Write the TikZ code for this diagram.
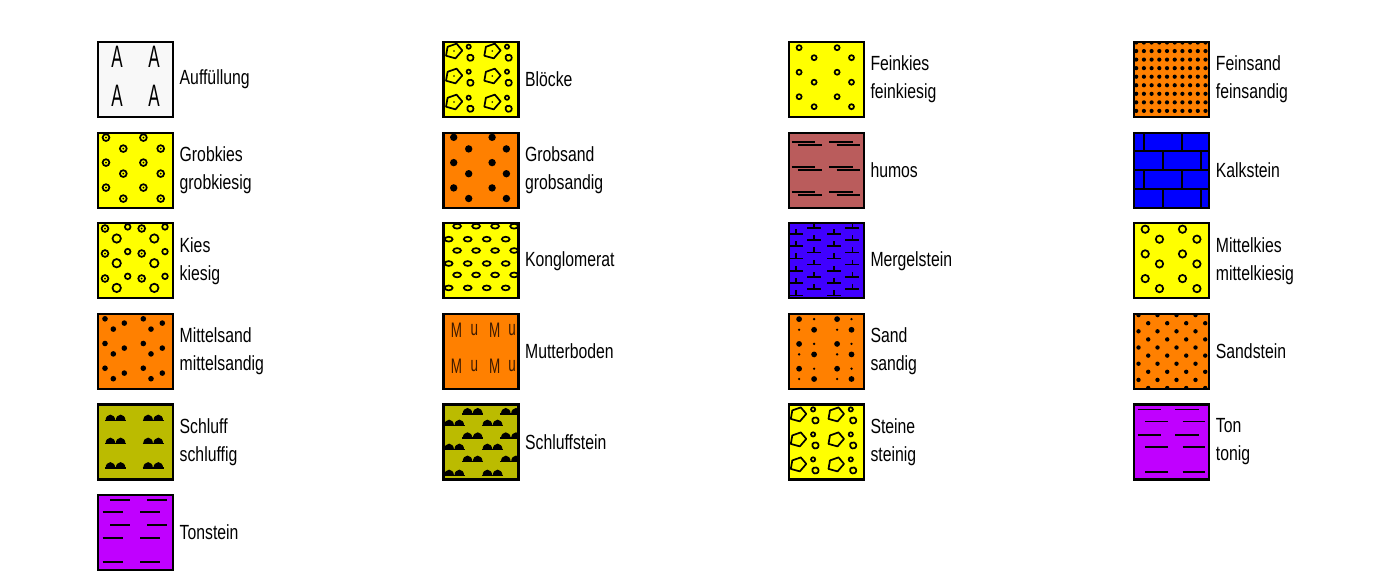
\documentclass[tikz,border=0pt]{standalone}
\usepackage{fontspec}
\setmainfont{Liberation Sans}[FakeStretch=0.77]
\newfontfamily\afont{Liberation Sans}[FakeStretch=0.55]
\newfontfamily\mfont{Liberation Sans}[FakeStretch=0.64]
\definecolor{cyel}{RGB}{255,255,0}
\definecolor{corg}{RGB}{255,128,0}
\definecolor{coli}{RGB}{187,187,0}
\definecolor{chum}{RGB}{186,92,92}
\definecolor{cmer}{RGB}{64,0,255}
\definecolor{ckalk}{RGB}{0,0,255}
\definecolor{cton}{RGB}{192,0,255}
\definecolor{cauf}{RGB}{248,248,248}
\definecolor{cmut}{RGB}{60,25,0}
\tikzset{pl/.style={line width=1.7pt}}
% helpers
\newcommand\dc[2]{\draw[pl] (#1,#2) circle[radius=3.4]; \fill[black] (#1,#2) circle[radius=1];}
\newcommand\oc[3]{\draw[pl] (#1,#2) circle[radius=#3];}
\newcommand\fd[3]{\fill[black] (#1,#2) circle[radius=#3];}
\newcommand\penta[3]{\draw[pl,line join=round,shift={(#1,#2)},scale=#3] (-7.5,4.5) -- (-6,-4) -- (2.5,-7) -- (8,-0.5) -- (1.5,7) -- cycle;}
\newcommand\blob[2]{\draw[pl,shift={(#1,#2)},rounded corners=1.2pt] (-3,-2.5) -- (2,-3) -- (3.5,1) -- (0.5,3.5) -- (-3,2) -- cycle;}
\newcommand\hump[2]{\fill[black] (#1+0.6,#2) arc[start angle=180,end angle=360,x radius=4.8,y radius=5.8] -- cycle;
  \fill[black] (#1+10.8,#2) arc[start angle=180,end angle=360,x radius=4.8,y radius=5.8] -- cycle;
  \draw[line width=1.6pt] (#1,#2) -- (#1+21,#2);}
\newcommand\tee[2]{\draw[line width=1.6pt] (#1-7,#2) -- (#1+7,#2) (#1,#2) -- (#1,#2-5);}
\newcommand\hdash[3]{\draw[line width=1.8pt] (#2,#1) -- (#3,#1);}
% patterns (local coordinates, origin at the outer top-left corner of a box, y downwards)
\newcommand\pAuf{\foreach \x/\y/\n in {20/16/a1,57/16/a2,20/55/a3,57/55/a4}{\node[font=\afont\fontsize{31}{31}\selectfont,inner sep=0pt] (\n) at (\x,\y) {A};}}
\newcommand\pGrobkies{\foreach \i in {0,1}{\foreach \j in {0,1,2}{\dc{9+37.4*\i}{6+25*\j}\dc{26.3+37.4*\i}{17+25*\j}}}}
\newcommand\pKies{\foreach \i in {0,1}{\foreach \j in {0,1,2}{\dc{8+36.7*\i}{6.3+25*\j}\oc{30.7+37.3*\i}{4.7+24.7*\j}{2.8}\oc{19.7+37.6*\i}{16.3+24.7*\j}{4.2}}}}
\newcommand\pMittelsand{\foreach \i in {0,1}{\foreach \j in {0,1,2}{\fd{8+38.3*\i}{6+24.7*\j}{2.8}\fd{27.3+38*\i}{10.3+25*\j}{2.8}\fd{16.3+37.7*\i}{16.3+24.8*\j}{2.8}}}}
\newcommand\pSchluff{\foreach \i in {0,1}{\foreach \y in {17,40,64.5}{\hump{8+37.7*\i}{\y}}}}
\newcommand\pTonstein{\foreach \y/\a/\b/\c/\d in {6/13/33/50.3/70.3,18.3/5.7/25.7/43/63,31/13/33/50.3/70.3,43.7/5.7/25.7/43/63,67.7/5.7/25.7/43/63}{\hdash{\y}{\a}{\b}\hdash{\y}{\c}{\d}}}
\newcommand\pBloecke{\foreach \i in {0,1}{\foreach \dy in {0,25,51}{\penta{11.5+38.3*\i}{10+\dy}{1.05}\fd{11.5+38.3*\i}{10+\dy}{0.9}\oc{26.3+38.3*\i}{5.7+\dy}{2.1}\blob{28+38.3*\i}{16.7+\dy}}}}
\newcommand\pGrobsand{\foreach \i in {0,1}{\foreach \j in {0,1,2}{\fd{11.3+38.4*\i}{5.7+25.3*\j}{3.7}\fd{26.3+37.7*\i}{17.3+24.8*\j}{3.7}}}}
\newcommand\pKong{\foreach \y in {4,28.3,52.7}{\foreach \k in {-1,...,4}{\draw[pl] (14.7+19*\k,\y) ellipse[x radius=3.9,y radius=2.4];}}
  \foreach \y in {17,41.3,65.7}{\foreach \k in {-1,...,4}{\draw[pl] (6.3+19*\k,\y) ellipse[x radius=3.9,y radius=2.4];}}}
\newcommand\pMutter{\foreach \x/\y/\t/\n in {14/17/M/m1,32/17/u/m2,52.3/17/M/m3,69.7/17/u/m4,14/53.7/M/m5,32/53.7/u/m6,52.3/53.7/M/m7,69.7/53.7/u/m8}{\node[font=\mfont\fontsize{21}{21}\selectfont,text=cmut,inner sep=0pt] (\n) at (\x,\y) {\t};}}
\newcommand\pSchluffstein{\foreach \y/\a in {10.3/19.7,22/1.3,34.7/19.7,46/1.3,58/19.7,72/1.3}{\hump{\a}{\y}\hump{\a+38.3}{\y}}}
\newcommand\pFeinkies{\foreach \i in {0,1}{\foreach \j in {0,1,2}{\oc{11.3+38*\i}{6.7+24.5*\j}{2.5}\oc{26.3+37.4*\i}{16.7+24.5*\j}{2.5}}}}
\newcommand\pHumos{\foreach \dy in {0,25,50}{\draw[line width=1.8pt] (3.7,10.7+\dy) -- (27,10.7+\dy) (10.3,13.3+\dy) -- (33.7,13.3+\dy) (41.3,10.7+\dy) -- (64.7,10.7+\dy) (48.7,13.3+\dy) -- (72,13.3+\dy);}}
\newcommand\pMergel{\foreach \j in {0,...,12}{\pgfmathsetmacro\yy{5.5+6.15*\j}\pgfmathsetmacro\xo{mod(\j,2)==0?26.3:8}\foreach \k in {0,1}{\tee{\xo+38.3*\k}{\yy}}}}
\newcommand\pSand{\foreach \i in {0,1}{\foreach \j in {0,1,2}{\fd{11.3+38*\i}{6.3+24.8*\j}{2.9}\fd{26.3+37.4*\i}{17+24.6*\j}{2.9}\fd{26.3+37.4*\i}{6.3+24.8*\j}{1.3}\fd{11.3+38*\i}{17+24.6*\j}{1.3}}}}
\newcommand\pSteine{\foreach \i in {0,1}{\foreach \dy in {0,25,50}{\penta{10.5+37.7*\i}{11+\dy}{1}\oc{25.3+37.7*\i}{6+\dy}{2.1}\blob{27.7+37.7*\i}{17+\dy}}}}
\newcommand\pFeinsand{\foreach \j in {0,...,9}{\foreach \i in {0,...,9}{\fd{3+7.7*\i}{1.5+8.55*\j}{2.1}}}}
\newcommand\pKalk{\draw[line width=2pt] (0,19) -- (77,19) (0,38) -- (77,38) (0,57.3) -- (77,57.3)
  (10.3,0) -- (10.3,19) (48.7,0) -- (48.7,19) (29.7,19) -- (29.7,38) (68,19) -- (68,38)
  (10.3,38) -- (10.3,57.3) (48.7,38) -- (48.7,57.3) (29.7,57.3) -- (29.7,77) (68,57.3) -- (68,77);}
\newcommand\pMittelkies{\foreach \i in {0,1}{\foreach \j in {0,1,2}{\oc{12+37.3*\i}{7+24.7*\j}{3.7}\oc{26.3+37.4*\i}{17+24.7*\j}{3.7}}}}
\newcommand\pSandstein{\foreach \j in {0,...,9}{\pgfmathsetmacro\xo{mod(\j,2)*9.7}\foreach \k in {-1,...,4}{\fd{5.3+\xo+19*\k}{2.3+8.1*\j}{2.2}}}}
\newcommand\pTon{\foreach \y/\a/\b/\c/\d in {6/4.7/28/42/65.3,18/12/34.7/49.3/72,31.3/4.7/28/42/65.3,43.7/12/34.7/49.3/72,68.7/12/34.7/49.3/72}{\hdash{\y}{\a}{\b}\hdash{\y}{\c}{\d}}}
\tikzset{
  lbox/.style={rectangle, draw=black, line width=2.2pt, minimum size=75pt, inner sep=0pt, outer sep=0pt},
  lbl/.style={anchor=west, inner sep=0pt, align=left, font=\fontsize{20.5}{28}\selectfont}
}
% box with pattern: name, x, y, fill, pattern
\newcommand\legbox[5]{%
  \node[lbox, fill=#4] (#1) at (#2,#3) {};
  \begin{scope}
    \clip (#1.north west) rectangle (#1.south east);
    \begin{scope}[shift={(#1.north west)},shift={(-1,-1)}]#5\end{scope}
  \end{scope}
  \draw[line width=2.2pt] (#1.north west) rectangle (#1.south east);
}
\begin{document}
\begin{tikzpicture}[x=1pt,y=-1pt]
\useasboundingbox (0,0) rectangle (1400,582);
% column 1
\legbox{b1}{135.5}{79.5}{cauf}{\pAuf}
\node[lbl] (t1) at ([xshift=6.5pt]b1.east) {Auffüllung};
\legbox{b2}{135.5}{170.1}{cyel}{\pGrobkies}
\node[lbl] (t2) at ([xshift=6.5pt]b2.east) {Grobkies\\grobkiesig};
\legbox{b3}{135.5}{260.7}{cyel}{\pKies}
\node[lbl] (t3) at ([xshift=6.5pt]b3.east) {Kies\\kiesig};
\legbox{b4}{135.5}{351.3}{corg}{\pMittelsand}
\node[lbl] (t4) at ([xshift=6.5pt]b4.east) {Mittelsand\\mittelsandig};
\legbox{b5}{135.5}{441.9}{coli}{\pSchluff}
\node[lbl] (t5) at ([xshift=6.5pt]b5.east) {Schluff\\schluffig};
\legbox{b6}{135.5}{532.5}{cton}{\pTonstein}
\node[lbl] (t6) at ([xshift=6.5pt]b6.east) {Tonstein};
% column 2
\legbox{c1}{480.9}{79.5}{cyel}{\pBloecke}
\node[lbl] (u1) at ([xshift=6.5pt]c1.east) {Blöcke};
\legbox{c2}{480.9}{170.1}{corg}{\pGrobsand}
\node[lbl] (u2) at ([xshift=6.5pt]c2.east) {Grobsand\\grobsandig};
\legbox{c3}{480.9}{260.7}{cyel}{\pKong}
\node[lbl] (u3) at ([xshift=6.5pt]c3.east) {Konglomerat};
\legbox{c4}{480.9}{351.3}{corg}{\pMutter}
\node[lbl] (u4) at ([xshift=6.5pt]c4.east) {Mutterboden};
\legbox{c5}{480.9}{441.9}{coli}{\pSchluffstein}
\node[lbl] (u5) at ([xshift=6.5pt]c5.east) {Schluffstein};
% column 3
\legbox{d1}{826.3}{79.5}{cyel}{\pFeinkies}
\node[lbl] (v1) at ([xshift=6.5pt]d1.east) {Feinkies\\feinkiesig};
\legbox{d2}{826.3}{170.1}{chum}{\pHumos}
\node[lbl] (v2) at ([xshift=6.5pt]d2.east) {humos};
\legbox{d3}{826.3}{260.7}{cmer}{\pMergel}
\node[lbl] (v3) at ([xshift=6.5pt]d3.east) {Mergelstein};
\legbox{d4}{826.3}{351.3}{corg}{\pSand}
\node[lbl] (v4) at ([xshift=6.5pt]d4.east) {Sand\\sandig};
\legbox{d5}{826.3}{441.9}{cyel}{\pSteine}
\node[lbl] (v5) at ([xshift=6.5pt]d5.east) {Steine\\steinig};
% column 4
\legbox{e1}{1171.7}{79.5}{corg}{\pFeinsand}
\node[lbl] (w1) at ([xshift=6.5pt]e1.east) {Feinsand\\feinsandig};
\legbox{e2}{1171.7}{170.1}{ckalk}{\pKalk}
\node[lbl] (w2) at ([xshift=6.5pt]e2.east) {Kalkstein};
\legbox{e3}{1171.7}{260.7}{cyel}{\pMittelkies}
\node[lbl] (w3) at ([xshift=6.5pt]e3.east) {Mittelkies\\mittelkiesig};
\legbox{e4}{1171.7}{351.3}{corg}{\pSandstein}
\node[lbl] (w4) at ([xshift=6.5pt]e4.east) {Sandstein};
\legbox{e5}{1171.7}{441.9}{cton}{\pTon}
\node[lbl] (w5) at ([xshift=6.5pt]e5.east) {Ton\\tonig};
\end{tikzpicture}
\end{document}
